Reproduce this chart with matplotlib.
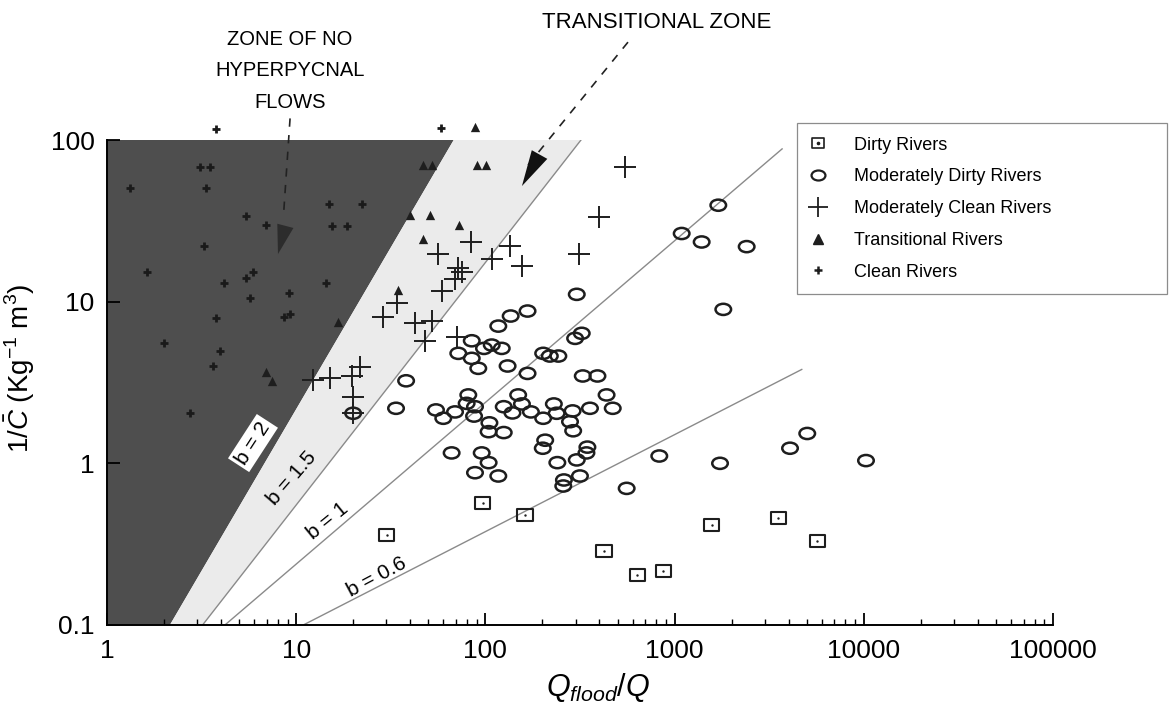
import numpy as np
import matplotlib
matplotlib.use('Agg')
import matplotlib.pyplot as plt
from matplotlib.path import Path
from matplotlib.lines import Line2D
from matplotlib.ticker import NullLocator, FixedLocator, LogLocator

plt.rcParams['font.family'] = ['Liberation Sans', 'DejaVu Sans']
plt.rcParams['mathtext.fontset'] = 'custom'
plt.rcParams['mathtext.rm'] = 'Liberation Sans'
plt.rcParams['mathtext.it'] = 'Liberation Sans:italic'
plt.rcParams['mathtext.bf'] = 'Liberation Sans:bold'

# ---------------- data ----------------
dirty_x = [30.1, 96.7, 162, 424, 635, 871, 1570, 3532, 5680]
dirty_y = [0.360, 0.571, 0.479, 0.288, 0.204, 0.217, 0.415, 0.457, 0.332]

mdirty_x = [38.1, 33.7, 20.0, 84.7, 71.9, 84.7, 91.7, 98.3, 108, 122, 131, 117, 136, 167,
            167, 202, 219, 243, 81.2, 79.6, 54.8, 59.9, 69.1, 88.1, 87.1, 105, 104, 125,
            125, 139, 149, 156, 174, 202, 230, 207, 201, 327, 391, 238, 289, 280, 291,
            357, 437, 471, 66.3, 95.6, 104, 88.1, 117, 240, 304, 346, 342, 316, 260, 258,
            558, 830, 1738, 304, 323, 298, 1809, 1090, 1390, 1702, 2404, 4074, 5025, 10270]
mdirty_y = [3.24, 2.19, 2.04, 5.73, 4.79, 4.46, 3.87, 5.14, 5.39, 5.14, 4.0, 7.06, 8.15, 8.75,
            3.60, 4.79, 4.61, 4.61, 2.65, 2.35, 2.14, 1.90, 2.08, 2.24, 1.96, 1.78, 1.57, 1.55,
            2.24, 2.05, 2.65, 2.33, 2.08, 1.90, 2.33, 1.39, 1.24, 3.47, 3.47, 2.04, 2.11, 1.81, 1.59,
            2.19, 2.65, 2.19, 1.16, 1.16, 1.01, 0.875, 0.835, 1.01, 1.05, 1.26, 1.16, 0.835, 0.789, 0.724,
            0.70, 1.11, 1.0, 11.1, 6.37, 5.93, 8.96, 26.4, 23.4, 39.5, 21.9, 1.24, 1.53, 1.04]

mclean_x = [547, 398, 312, 83.9, 55.9, 135, 109, 156, 71.7, 75.2, 69.1, 58.7, 34.0, 28.7,
            42.4, 52.0, 48.0, 70.5, 21.7, 19.7, 12.3, 15.1, 20.0, 20.0]
mclean_y = [68.2, 33.5, 19.7, 23.4, 19.7, 22.1, 18.3, 16.6, 16.1, 15.2, 13.8, 11.7, 9.76, 8.07,
            7.34, 7.64, 5.73, 6.01, 3.95, 3.47, 3.27, 3.36, 2.58, 2.04]

trans_x = [88.1, 46.8, 52.2, 90.3, 100.7, 39.9, 50.9, 72.5, 46.8, 34.6, 16.7, 6.95, 7.45]
trans_y = [120, 70, 70, 70, 70, 34.3, 34.3, 29.8, 24.3, 11.8, 7.51, 3.69, 3.24]

clean_x = [3.77, 58.2, 3.10, 3.50, 1.32, 3.34, 5.43, 6.92, 14.9, 22.3, 15.5, 18.6, 3.26, 1.63,
           4.15, 5.43, 5.91, 14.4, 9.16, 5.70, 8.6, 9.3, 3.77, 2.0, 3.96, 3.63, 2.75]
clean_y = [117, 118, 67.9, 67.9, 50.4, 50.4, 33.8, 29.8, 40.1, 40.1, 29.3, 29.3, 22.1, 15.2,
           13.0, 14.0, 15.2, 13.0, 11.3, 10.5, 8.0, 8.4, 7.92, 5.55, 4.95, 4.0, 2.05]

# power-law lines 1/C = 0.1 * (x / x0) ** b
b_values = [2.0, 1.5, 1.0, 0.6]
b_x0 = [2.15, 3.2, 4.2, 10.9]
b_xend = [68.0, 320.0, 3700.0, 4700.0]
b_labels = ['b = 2', 'b = 1.5', 'b = 1', 'b = 0.6']
b_label_pos = [(5.91, 1.335), (9.5, 0.811), (14.7, 0.44), (26.7, 0.198)]
b_label_rot = [57, 49, 39, 28]

xtick_vals = [1, 10, 100, 1000, 10000, 100000]
xtick_labels = ['1', '10', '100', '1000', '10000', '100000']
ytick_vals = [0.1, 1, 10, 100]
ytick_labels = ['0.1', '1', '10', '100']

# ---------------- figure ----------------
W, H = 1172, 715
fig = plt.figure(figsize=(W / 100, H / 100), dpi=100)
ax = fig.add_axes([107 / W, 90 / H, 946 / W, 485 / H])
ax.set_xscale('log')
ax.set_yscale('log')
ax.set_xlim(1, 1e5)
ax.set_ylim(0.1, 100)

# shaded zones
def line_x_at(y, b, x0):
    return x0 * (y / 0.1) ** (1.0 / b)

x2_top = line_x_at(100, b_values[0], b_x0[0])
x15_top = line_x_at(100, b_values[1], b_x0[1])
ax.fill([1, b_x0[0], x2_top, 1], [0.1, 0.1, 100, 100], color='#4e4e4e', lw=0, zorder=1)
ax.fill([b_x0[0], b_x0[1], x15_top, x2_top], [0.1, 0.1, 100, 100], color='#ebebeb', lw=0, zorder=1)

# lines
for b, x0, xe in zip(b_values[1:], b_x0[1:], b_xend[1:]):
    xs = np.geomspace(x0, xe, 60)
    ax.plot(xs, 0.1 * (xs / x0) ** b, color='#8a8a8a', lw=1.0, zorder=2)

for (lx, ly), lab, rot in zip(b_label_pos, b_labels, b_label_rot):
    kw = {}
    if lab == 'b = 2':
        kw['bbox'] = dict(boxstyle='square,pad=0.15', fc='white', ec='none')
    ax.text(lx, ly, lab, rotation=rot, ha='center', va='center', fontsize=15,
            rotation_mode='anchor', zorder=3, **kw)

# markers
ell = Path(Path.unit_circle().vertices * np.array([1.0, 0.72]), Path.unit_circle().codes)
rect = Path([(-1, -0.8), (1, -0.8), (1, 0.8), (-1, 0.8), (-1, -0.8)],
            [Path.MOVETO, Path.LINETO, Path.LINETO, Path.LINETO, Path.CLOSEPOLY])
mk = '#1e1e1e'

ax.scatter(dirty_x, dirty_y, marker=rect, s=120, facecolors='none', edgecolors=mk,
           linewidths=1.5, zorder=5, clip_on=False)
ax.scatter(dirty_x, dirty_y, marker='o', s=3, color=mk, lw=0, zorder=5)
ax.scatter(mdirty_x, mdirty_y, marker=ell, s=125, facecolors='none', edgecolors=mk,
           linewidths=1.8, zorder=5, clip_on=False)
ax.scatter(mclean_x, mclean_y, marker='+', s=260, color=mk, linewidths=1.4, zorder=6,
           clip_on=False)
ax.scatter(trans_x, trans_y, marker='^', s=45, color=mk, lw=0, zorder=6, clip_on=False)
ax.scatter(clean_x, clean_y, marker='+', s=40, color='#1a1a1a', linewidths=2.0, zorder=6,
           clip_on=False)

# axes styling
for s in ['top', 'right']:
    ax.spines[s].set_visible(False)
for s in ['left', 'bottom']:
    ax.spines[s].set_linewidth(1.4)
    ax.spines[s].set_zorder(7)
ax.xaxis.set_major_locator(FixedLocator(xtick_vals))
ax.set_xticklabels(xtick_labels)
ax.xaxis.set_minor_locator(LogLocator(base=10, subs=np.arange(2, 10)))
ax.yaxis.set_major_locator(FixedLocator(ytick_vals))
ax.set_yticklabels(ytick_labels)
ax.yaxis.set_minor_locator(NullLocator())
ax.tick_params(which='major', direction='in', length=9, width=1.3, labelsize=19,
               top=False, right=False)
ax.tick_params(axis='x', which='major', pad=10)
ax.tick_params(axis='y', which='major', pad=9)
ax.tick_params(which='minor', direction='in', length=4.5, width=1.0, top=False, right=False)
ax.set_zorder(2)

ax.set_xlabel(r'$Q_{flood}/Q$', fontsize=22, va='center')
ax.xaxis.set_label_coords((598 - 107) / 946, (625 - 688) / 485)
ax.set_ylabel(r'$1/\bar{C}$ (Kg$^{-1}$ m$^{3}$)', fontsize=20, va='center')
ax.yaxis.set_label_coords((20 - 107) / 946, (625 - 368) / 485)

# annotations
fig.text(290 / W, 1 - 71 / H, 'ZONE OF NO\nHYPERPYCNAL\nFLOWS', ha='center', va='center',
         fontsize=14.5, linespacing=1.85)
fig.text(657 / W, 1 - 22 / H, 'TRANSITIONAL ZONE', ha='center', va='center',
         fontsize=16)

# transitional zone arrow (dashed shaft + solid head)
ax.plot([567, 168], [403, 70], ls=(0, (5, 5)), color='#222222', lw=1.2, clip_on=False, zorder=8)
ax.annotate('', xy=(156, 51.9), xytext=(186, 75), xycoords='data', textcoords='data',
            arrowprops=dict(arrowstyle='-|>,head_length=1.3,head_width=0.32', mutation_scale=20,
                            color='#111111', lw=0, shrinkA=0, shrinkB=0), zorder=8,
            annotation_clip=False)
# no-hyperpycnal zone arrow
ax.plot([9.28, 8.55], [136, 33], ls=(0, (5, 5)), color='#222222', lw=1.2, clip_on=False, zorder=8)
ax.annotate('', xy=(8.01, 19.7), xytext=(8.9, 31.5), xycoords='data', textcoords='data',
            arrowprops=dict(arrowstyle='-|>,head_length=1.05,head_width=0.3', mutation_scale=20,
                            color='#2c2c2c', lw=0, shrinkA=0, shrinkB=0), zorder=8,
            annotation_clip=False)

# legend
h_dirty = (Line2D([], [], marker=rect, ms=9, mfc='none', mec=mk, mew=1.2, ls=''),
           Line2D([], [], marker='o', ms=1.6, color=mk, ls=''))
h_md = Line2D([], [], marker=ell, ms=10, mfc='none', mec=mk, mew=1.6, ls='')
h_mc = Line2D([], [], marker='+', ms=14, color=mk, mew=1.3, ls='')
h_tr = Line2D([], [], marker='^', ms=6.5, color=mk, ls='')
h_cl = Line2D([], [], marker='+', ms=6, color=mk, mew=1.8, ls='')
leg = fig.legend([h_dirty, h_md, h_mc, h_tr, h_cl],
                 ['Dirty Rivers', 'Moderately Dirty Rivers', 'Moderately Clean Rivers',
                  'Transitional Rivers', 'Clean Rivers'],
                 loc='upper left', bbox_to_anchor=(797 / W, 1 - 283 / H, 370 / W, 160 / H),
                 bbox_transform=fig.transFigure, mode='expand', fontsize=13,
                 frameon=True, fancybox=False, edgecolor='#8c8c8c', framealpha=1,
                 borderpad=0.75, handlelength=0.8, handletextpad=1.6, labelspacing=0.82,
                 borderaxespad=0)
leg.get_frame().set_linewidth(0.9)

fig.savefig('out.png', dpi=100)
